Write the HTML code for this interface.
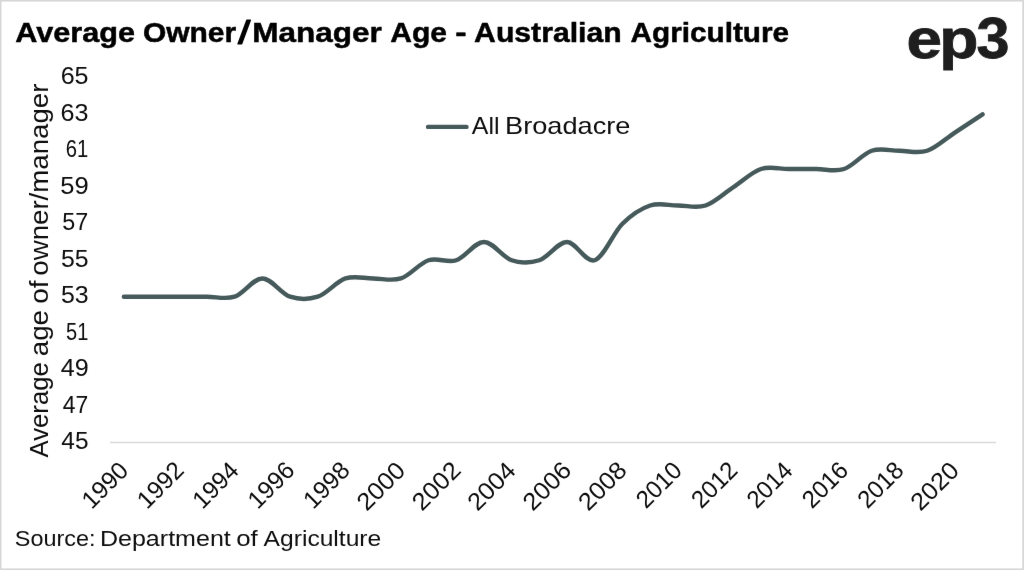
<!DOCTYPE html>
<html lang="en">
<head>
<meta charset="utf-8">
<title>Average Owner/Manager Age - Australian Agriculture</title>
<style>
html,body{margin:0;padding:0;background:#fff;}
body{width:1024px;height:570px;overflow:hidden;position:relative;}
svg{display:block;position:absolute;left:0;top:0;}
text{font-family:"Liberation Sans",sans-serif;fill:#0d0d0d;}
.t{font-weight:bold;fill:#000000;stroke:#000000;stroke-width:0.5;stroke-linejoin:round;}
.logo{font-weight:bold;fill:#1e1e1e;stroke:#1e1e1e;stroke-width:0.8;stroke-linejoin:miter;}
</style>
</head>
<body>
<svg width="1024" height="570" viewBox="0 0 1024 570">
<defs><filter id="soft" x="0" y="0" width="1024" height="570" filterUnits="userSpaceOnUse" color-interpolation-filters="sRGB"><feConvolveMatrix order="3" kernelMatrix="0.00163 0.03713 0.00163 0.03713 0.84497 0.03713 0.00163 0.03713 0.00163" edgeMode="none" preserveAlpha="false"/></filter></defs>
<rect x="0" y="0" width="1024" height="570" fill="#ffffff"/>
<g fill="#d7d7d7"><rect x="0" y="0" width="1024" height="1.6"/><rect x="0" y="568.4" width="1024" height="3"/><rect x="0" y="0" width="1.5" height="570"/><rect x="1022.3" y="0" width="3" height="570"/></g>
<g filter="url(#soft)">
<text class="t" font-size="27.9"><tspan x="15.18" textLength="119.83" lengthAdjust="spacingAndGlyphs" y="41.70">Average</tspan> <tspan x="142.95" textLength="93.23" lengthAdjust="spacingAndGlyphs" y="41.70">Owner</tspan><tspan x="237.90" textLength="12.42" lengthAdjust="spacingAndGlyphs" font-size="32.5" style="font-weight:normal;stroke-width:1" y="44.10">/</tspan><tspan x="252.32" textLength="129.50" lengthAdjust="spacingAndGlyphs" y="41.70">Manager</tspan> <tspan x="390.20" textLength="56.78" lengthAdjust="spacingAndGlyphs" y="41.70">Age</tspan> <tspan x="455.19" textLength="11.34" lengthAdjust="spacingAndGlyphs" y="41.70">-</tspan> <tspan x="474.10" textLength="147.57" lengthAdjust="spacingAndGlyphs" y="41.70">Australian</tspan> <tspan x="630.51" textLength="158.66" lengthAdjust="spacingAndGlyphs" y="41.70">Agriculture</tspan></text>
<text class="logo" font-size="56"><tspan x="906.45" textLength="35.50" lengthAdjust="spacingAndGlyphs" y="58.00">e</tspan><tspan x="939.23" textLength="39.19" lengthAdjust="spacingAndGlyphs" y="58.00">p</tspan><tspan x="976.57" textLength="32.98" lengthAdjust="spacingAndGlyphs" font-size="56.8" y="58.00">3</tspan></text>
<text font-size="24.5"><tspan x="60.65" textLength="27.92" lengthAdjust="spacingAndGlyphs" y="84.45">65</tspan></text>
<text font-size="24.5"><tspan x="60.64" textLength="27.99" lengthAdjust="spacingAndGlyphs" y="120.93">63</tspan></text>
<text font-size="24.5"><tspan x="65.79" textLength="22.52" lengthAdjust="spacingAndGlyphs" y="157.41">61</tspan></text>
<text font-size="24.5"><tspan x="60.28" textLength="28.43" lengthAdjust="spacingAndGlyphs" y="193.89">59</tspan></text>
<text font-size="24.5"><tspan x="62.27" textLength="25.95" lengthAdjust="spacingAndGlyphs" y="230.37">57</tspan></text>
<text font-size="24.5"><tspan x="60.91" textLength="27.65" lengthAdjust="spacingAndGlyphs" y="266.85">55</tspan></text>
<text font-size="24.5"><tspan x="60.90" textLength="27.71" lengthAdjust="spacingAndGlyphs" y="303.33">53</tspan></text>
<text font-size="24.5"><tspan x="66.00" textLength="22.30" lengthAdjust="spacingAndGlyphs" y="339.81">51</tspan></text>
<text font-size="24.5"><tspan x="60.73" textLength="27.96" lengthAdjust="spacingAndGlyphs" y="376.29">49</tspan></text>
<text font-size="24.5"><tspan x="62.68" textLength="25.52" lengthAdjust="spacingAndGlyphs" y="412.77">47</tspan></text>
<text font-size="24.5"><tspan x="61.35" textLength="27.18" lengthAdjust="spacingAndGlyphs" y="449.25">45</tspan></text>
<text transform="translate(48.10,457.50) rotate(-90)" font-size="25.1"><tspan x="-0.06" textLength="95.40" lengthAdjust="spacingAndGlyphs" y="0.00">Average</tspan> <tspan x="101.22" textLength="46.29" lengthAdjust="spacingAndGlyphs" y="0.00">age</tspan> <tspan x="153.81" textLength="23.36" lengthAdjust="spacingAndGlyphs" y="0.00">of</tspan> <tspan x="181.82" textLength="192.12" lengthAdjust="spacingAndGlyphs" y="0.00">owner/manager</tspan></text>
<line x1="110.0" y1="442.50" x2="996.0" y2="442.50" stroke="#d9d9d9" stroke-width="1.3"/>
<text transform="translate(129.04,472.60) rotate(-45)" font-size="24.5"><tspan x="-52.81" textLength="53.77" lengthAdjust="spacingAndGlyphs" y="0.00">1990</tspan></text>
<text transform="translate(184.42,472.60) rotate(-45)" font-size="24.5"><tspan x="-52.82" textLength="54.09" lengthAdjust="spacingAndGlyphs" y="0.00">1992</tspan></text>
<text transform="translate(239.79,472.60) rotate(-45)" font-size="24.5"><tspan x="-52.80" textLength="53.52" lengthAdjust="spacingAndGlyphs" y="0.00">1994</tspan></text>
<text transform="translate(295.17,472.60) rotate(-45)" font-size="24.5"><tspan x="-52.82" textLength="53.90" lengthAdjust="spacingAndGlyphs" y="0.00">1996</tspan></text>
<text transform="translate(350.54,472.60) rotate(-45)" font-size="24.5"><tspan x="-52.82" textLength="53.90" lengthAdjust="spacingAndGlyphs" y="0.00">1998</tspan></text>
<text transform="translate(405.92,472.60) rotate(-45)" font-size="24.5"><tspan x="-55.57" textLength="56.58" lengthAdjust="spacingAndGlyphs" y="0.00">2000</tspan></text>
<text transform="translate(461.29,472.60) rotate(-45)" font-size="24.5"><tspan x="-55.58" textLength="56.91" lengthAdjust="spacingAndGlyphs" y="0.00">2002</tspan></text>
<text transform="translate(516.67,472.60) rotate(-45)" font-size="24.5"><tspan x="-55.57" textLength="56.32" lengthAdjust="spacingAndGlyphs" y="0.00">2004</tspan></text>
<text transform="translate(572.04,472.60) rotate(-45)" font-size="24.5"><tspan x="-55.57" textLength="56.71" lengthAdjust="spacingAndGlyphs" y="0.00">2006</tspan></text>
<text transform="translate(627.42,472.60) rotate(-45)" font-size="24.5"><tspan x="-55.57" textLength="56.71" lengthAdjust="spacingAndGlyphs" y="0.00">2008</tspan></text>
<text transform="translate(682.79,472.60) rotate(-45)" font-size="24.5"><tspan x="-52.19" textLength="53.14" lengthAdjust="spacingAndGlyphs" y="0.00">2010</tspan></text>
<text transform="translate(738.17,472.60) rotate(-45)" font-size="24.5"><tspan x="-52.20" textLength="53.46" lengthAdjust="spacingAndGlyphs" y="0.00">2012</tspan></text>
<text transform="translate(793.54,472.60) rotate(-45)" font-size="24.5"><tspan x="-52.19" textLength="52.89" lengthAdjust="spacingAndGlyphs" y="0.00">2014</tspan></text>
<text transform="translate(848.92,472.60) rotate(-45)" font-size="24.5"><tspan x="-52.20" textLength="53.27" lengthAdjust="spacingAndGlyphs" y="0.00">2016</tspan></text>
<text transform="translate(904.29,472.60) rotate(-45)" font-size="24.5"><tspan x="-52.20" textLength="53.27" lengthAdjust="spacingAndGlyphs" y="0.00">2018</tspan></text>
<text transform="translate(959.67,472.60) rotate(-45)" font-size="24.5"><tspan x="-55.57" textLength="56.58" lengthAdjust="spacingAndGlyphs" y="0.00">2020</tspan></text>
<path d="M123.84,296.70 C128.46,296.70 142.31,296.70 151.54,296.70 C160.78,296.70 170.01,296.70 179.24,296.70 C188.48,296.70 197.71,296.70 206.94,296.70 C216.18,296.70 225.41,299.74 234.64,296.70 C243.88,293.66 253.11,278.46 262.34,278.46 C271.58,278.46 280.81,293.66 290.04,296.70 C299.28,299.74 308.51,299.74 317.74,296.70 C326.98,293.66 336.21,281.50 345.44,278.46 C354.68,275.42 363.91,278.46 373.14,278.46 C382.38,278.46 391.61,281.50 400.84,278.46 C410.08,275.42 419.31,263.26 428.54,260.22 C437.78,257.18 447.01,263.26 456.24,260.22 C465.48,257.18 474.71,241.98 483.94,241.98 C493.18,241.98 502.41,257.18 511.64,260.22 C520.88,263.26 530.11,263.26 539.34,260.22 C548.58,257.18 557.81,241.98 567.04,241.98 C576.28,241.98 585.51,263.26 594.74,260.22 C603.98,257.18 613.21,232.86 622.44,223.74 C631.68,214.62 640.91,208.54 650.14,205.50 C659.38,202.46 668.61,205.50 677.84,205.50 C687.08,205.50 696.31,208.54 705.54,205.50 C714.78,202.46 724.01,193.34 733.24,187.26 C742.48,181.18 751.71,172.06 760.94,169.02 C770.18,165.98 779.41,169.02 788.64,169.02 C797.88,169.02 807.11,169.02 816.34,169.02 C825.58,169.02 834.81,172.06 844.04,169.02 C853.28,165.98 862.51,153.82 871.74,150.78 C880.98,147.74 890.21,150.78 899.44,150.78 C908.68,150.78 917.91,153.82 927.14,150.78 C936.38,147.74 945.61,138.62 954.84,132.54 C964.08,126.46 977.93,117.34 982.54,114.30" fill="none" stroke="#465a5c" stroke-width="4.4" stroke-linecap="round" stroke-linejoin="round"/>
<line x1="428.0" y1="126.9" x2="466.5" y2="126.9" stroke="#465a5c" stroke-width="4.4" stroke-linecap="round"/>
<text font-size="23.6"><tspan x="471.84" textLength="27.72" lengthAdjust="spacingAndGlyphs" y="133.50">All</tspan> <tspan x="505.06" textLength="125.33" lengthAdjust="spacingAndGlyphs" y="133.50">Broadacre</tspan></text>
<text font-size="22.6"><tspan x="14.85" textLength="80.69" lengthAdjust="spacingAndGlyphs" y="545.50">Source:</tspan> <tspan x="99.93" textLength="130.85" lengthAdjust="spacingAndGlyphs" y="545.50">Department</tspan> <tspan x="236.20" textLength="21.57" lengthAdjust="spacingAndGlyphs" y="545.50">of</tspan> <tspan x="263.64" textLength="117.61" lengthAdjust="spacingAndGlyphs" y="545.50">Agriculture</tspan></text>
</g>
</svg>
</body>
</html>
